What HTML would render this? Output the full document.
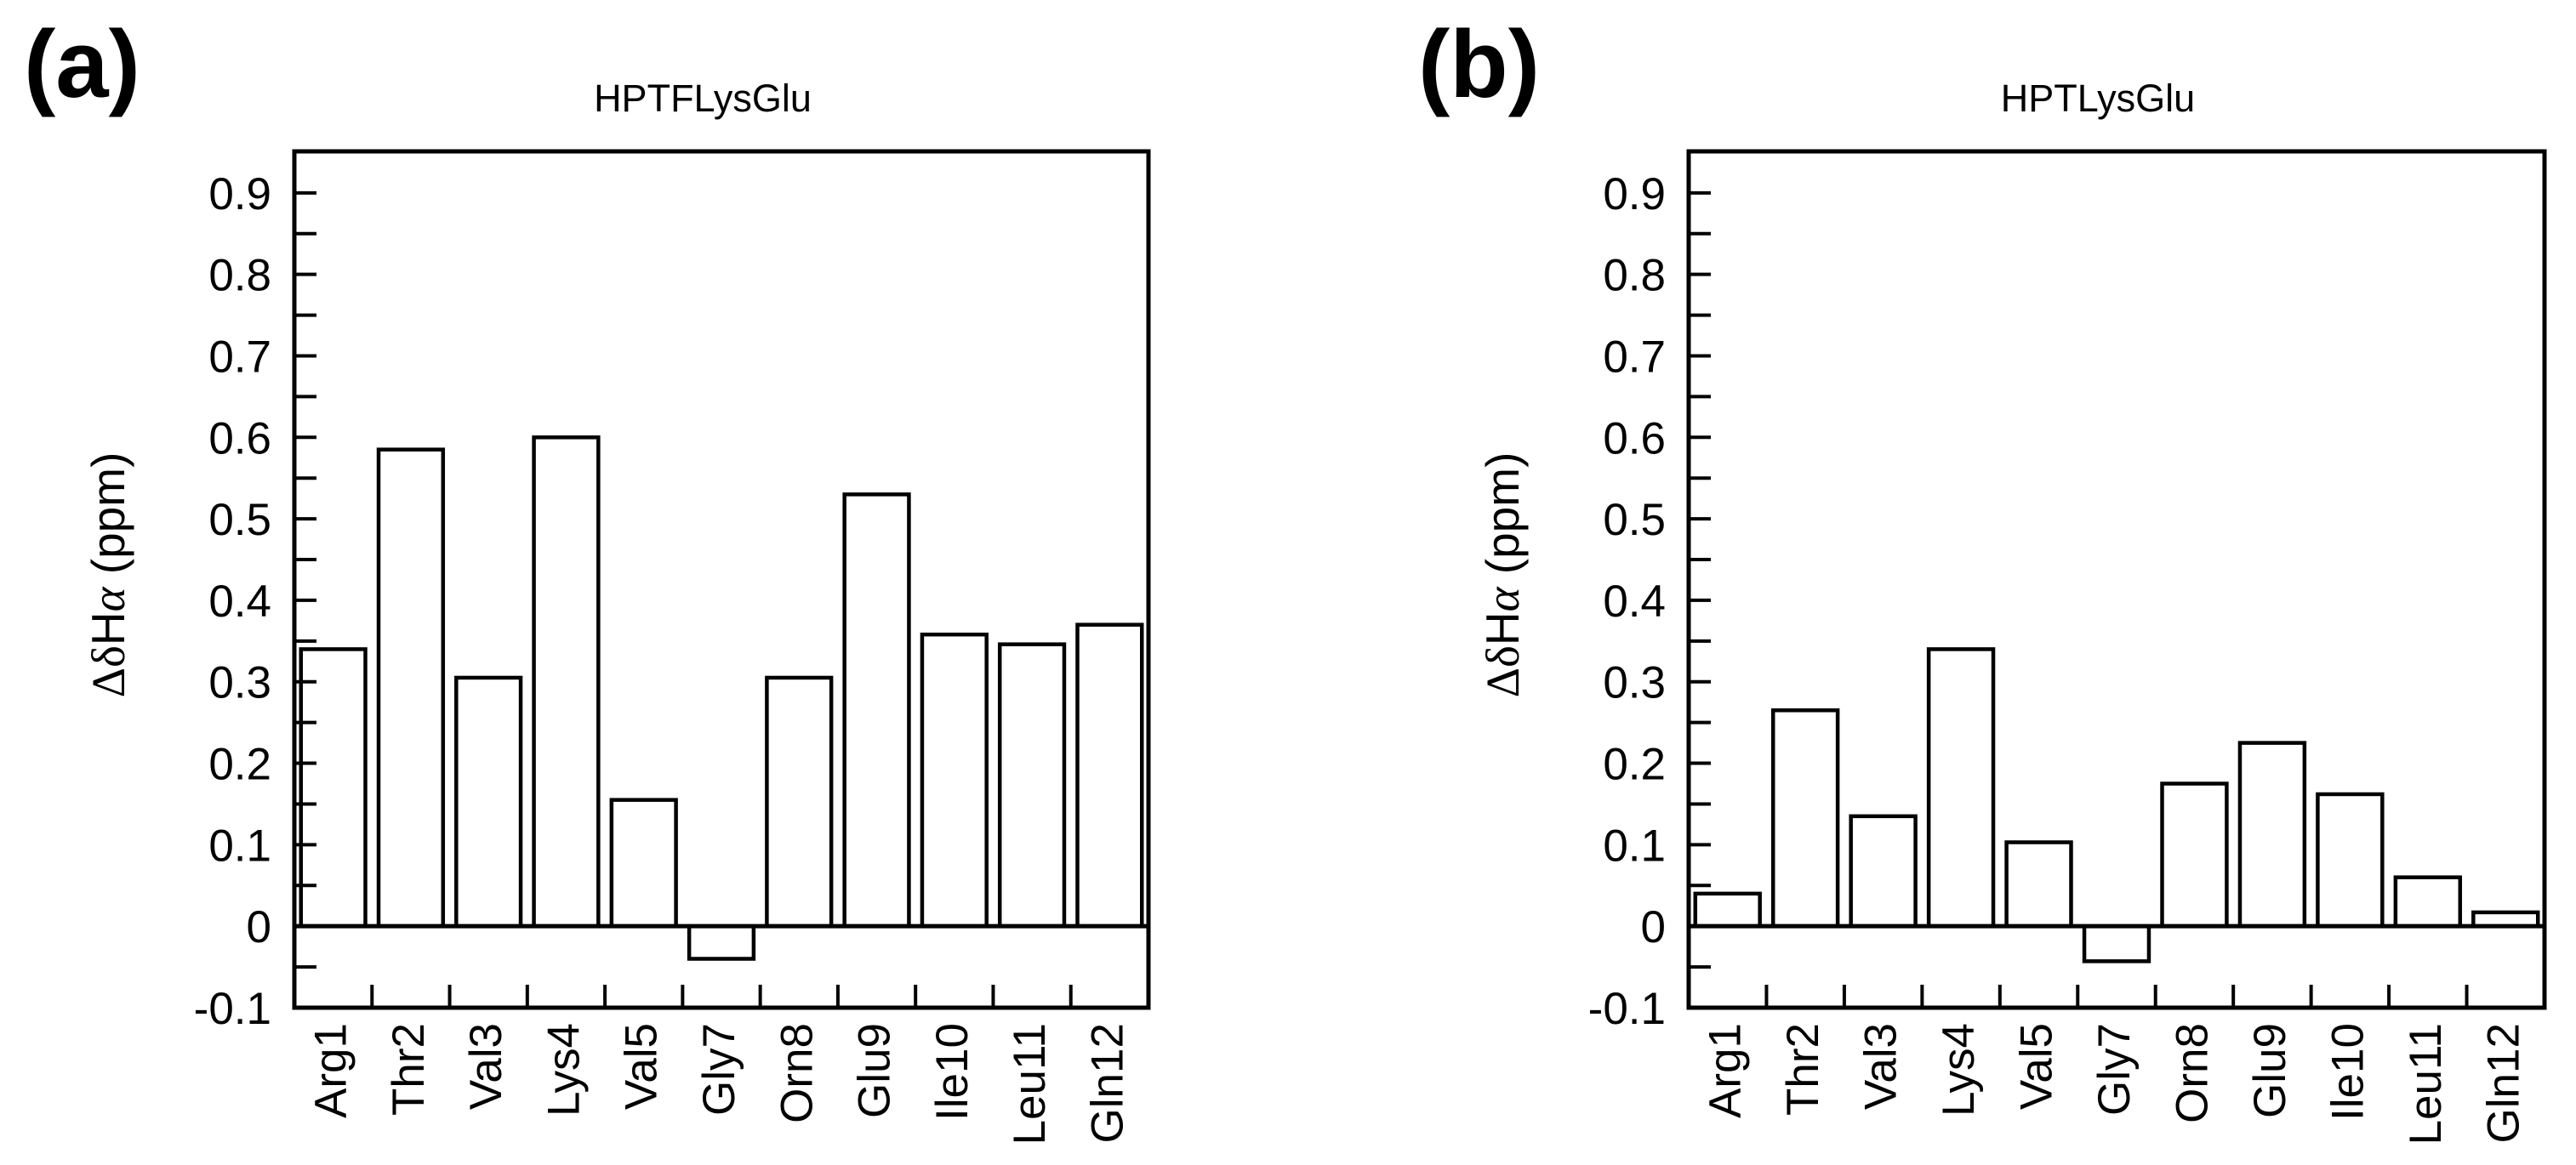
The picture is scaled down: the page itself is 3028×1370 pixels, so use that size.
<!DOCTYPE html>
<html><head><meta charset="utf-8">
<style>
html,body{margin:0;padding:0;background:#fff;}
svg{display:block;font-family:"Liberation Sans",Arial,sans-serif;}
</style></head>
<body>
<svg id="fig" width="3028" height="1370" viewBox="0 0 3028 1370" xmlns="http://www.w3.org/2000/svg">
<rect width="3028" height="1370" fill="#fff"/>
</svg>
<script>
const categories = ["Arg1","Thr2","Val3","Lys4","Val5","Gly7","Orn8","Glu9","Ile10","Leu11","Gln12"];
const valuesA = [0.34,0.585,0.305,0.60,0.155,-0.04,0.305,0.53,0.358,0.346,0.37];
const valuesB = [0.04,0.265,0.135,0.34,0.103,-0.043,0.175,0.225,0.162,0.06,0.017];
const yTicks = [-0.1,0,0.1,0.2,0.3,0.4,0.5,0.6,0.7,0.8,0.9];
const yTickLabels = ["-0.1","0","0.1","0.2","0.3","0.4","0.5","0.6","0.7","0.8","0.9"];
const yMinor = [-0.05,0.05,0.15,0.25,0.35,0.45,0.55,0.65,0.75,0.85];
const titles = ["HPTFLysGlu","HPTLysGlu"];
const panelLabels = ["(a)","(b)"];

const NS = "http://www.w3.org/2000/svg";
const svg = document.getElementById('fig');
function mk(tag, attrs, parent){
  const e = document.createElementNS(NS, tag);
  for (const k in attrs) e.setAttribute(k, attrs[k]);
  (parent||svg).appendChild(e);
  return e;
}

function panel(idx, x0, x1, labelX, values){
  const yTop = 178, yBot = 1185, vMin = -0.1, vMax = 0.951;
  const y = v => yBot - (v - vMin) / (vMax - vMin) * (yBot - yTop);
  const n = categories.length;
  const bw = (x1 - x0) / n;
  const g = mk('g', {});
  
  

  const pl = mk('text', {x: labelX, y: 114, 'font-size': 112, 'font-weight': 'bold'}, g);
  pl.textContent = panelLabels[idx];
  
  

  const t = mk('text', {x: (x0 + x1) / 2 - 22, y: 131, 'font-size': 45, 'text-anchor': 'middle'}, g);
  t.textContent = titles[idx];
  
  

  values.forEach((v, i) => {
    const cx = x0 + bw * (i + 0.5);
    const half = bw * 0.415;
    const top = Math.min(y(v), y(0)), h = Math.abs(y(v) - y(0));
    const r = mk('rect', {x: cx - half, y: top, width: half * 2, height: h, fill: 'none', stroke: '#000', 'stroke-width': 4.5}, g);
    
    
  });

  const z = mk('line', {x1: x0, x2: x1, y1: y(0), y2: y(0), stroke: '#000', 'stroke-width': 5}, g);
  
  

  yTicks.forEach((v, i) => {
    const tk = mk('line', {x1: x0, x2: x0 + 26, y1: y(v), y2: y(v), stroke: '#000', 'stroke-width': 4}, g);
    
    
    const lb = mk('text', {x: x0 - 27, y: y(v) + 19, 'font-size': 53, 'text-anchor': 'end'}, g);
    lb.textContent = yTickLabels[i];
    
    
  });
  yMinor.forEach(v => {
    const tk = mk('line', {x1: x0, x2: x0 + 26, y1: y(v), y2: y(v), stroke: '#000', 'stroke-width': 4}, g);
    
    
  });

  for (let i = 1; i < n; i++) {
    const xx = x0 + bw * i;
    const tk = mk('line', {x1: xx, x2: xx, y1: yBot, y2: yBot - 27, stroke: '#000', 'stroke-width': 4}, g);
    
    
  }
  categories.forEach((c, i) => {
    const cx = x0 + bw * (i + 0.5) + 15;
    const lb = mk('text', {x: 0, y: 0, 'font-size': 53, 'text-anchor': 'end', transform: `translate(${cx},1203) rotate(-90)`}, g);
    lb.textContent = c;
    
    
  });

  const f = mk('rect', {x: x0, y: yTop, width: x1 - x0, height: yBot - yTop, fill: 'none', stroke: '#000', 'stroke-width': 5}, g);
  
  

  const yt = mk('text', {x: 0, y: 0, 'font-size': 55, 'text-anchor': 'middle', transform: `translate(${x0 - 200},676) rotate(-90)`}, g);
  
  
  const s1 = mk('tspan', {'font-family': '"Liberation Serif",serif'}, yt); s1.textContent = 'Δδ';
  const s2 = mk('tspan', {}, yt); s2.textContent = 'H';
  const s3 = mk('tspan', {'font-family': '"Liberation Serif",serif', 'font-style': 'italic'}, yt); s3.textContent = 'α';
  const s4 = mk('tspan', {}, yt); s4.textContent = ' (ppm)';
}

panel(0, 346, 1350, 28, valuesA);
panel(1, 1985, 2991, 1667, valuesB);
</script>
</body></html>
